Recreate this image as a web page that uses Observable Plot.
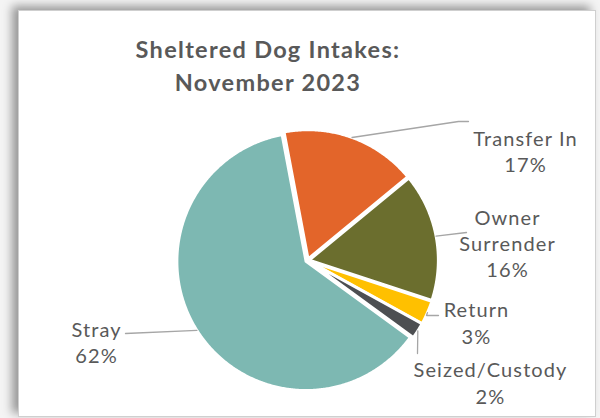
<!DOCTYPE html>
<html>
<head>
<meta charset="utf-8">
<script src="https://cdn.jsdelivr.net/npm/d3@7"></script>
<script src="https://cdn.jsdelivr.net/npm/@observablehq/plot@0.6"></script>
<style>
  html, body { margin: 0; padding: 0; background: #ffffff; }
  #wrap { position: relative; width: 600px; height: 418px; overflow: hidden; background: #f4f4f4; }
  #panel { position: absolute; left: 18px; top: 10px; width: 576px; height: 405px; background: #fff;
           border: 1px solid #cfcfcf; box-shadow: -6px -4px 9px rgba(0,0,0,0.38); }
  #title { position: absolute; left: 48px; width: 440px; top: 33px; text-align: center;
           font-family: "Century Gothic", Lato, "DejaVu Sans", sans-serif; font-weight: 700;
           font-size: 23.5px; line-height: 33px; color: #595959; letter-spacing: 1.3px; }
  #chart { position: absolute; left: 0; top: 0; }
  #chart text { letter-spacing: 1.1px; }
</style>
</head>
<body>
<div id="wrap">
  <div id="panel"></div>
  <div id="title">Sheltered Dog Intakes:<br>November 2023</div>
  <div id="chart"></div>
</div>
<script>
// ---- data ----
const categories = ["Transfer In", "Owner Surrender", "Return", "Seized/Custody", "Stray"];
const values = [17, 16, 3, 2, 62];
const labelTexts = ["Transfer In", "Owner\nSurrender", "Return", "Seized/Custody", "Stray"];
const percentLabels = ["17%", "16%", "3%", "2%", "62%"];
const colors = ["#e3652a", "#6b6e2e", "#ffc000", "#4d4f52", "#7db8b2"];

// ---- layout ----
const W = 600, H = 418;
const cx = 307, cy = 260, R = 129;
const startDeg = -10.7;   // first slice angle
const explode = 1.8;
const labelPos = {
  "Transfer In": [525, 150],
  "Owner Surrender": [507, 242],
  "Return": [476, 321.5],
  "Seized/Custody": [490, 381.5],
  "Stray": [96, 341]
};
const leaderElbows = {
  "Transfer In": [[458, 121], [468, 121]],
  "Owner Surrender": [[466, 232]],
  "Return": [[426, 315], [438, 315]],
  "Seized/Custody": [[417, 353]],
  "Stray": [[125, 333]]
};

const rows = categories.map((c, i) => ({name: c, value: values[i], label: labelTexts[i] + "\n" + percentLabels[i]}));
const a0 = startDeg * Math.PI / 180;
const arcs = d3.pie().sort(null).value(d => d.value).startAngle(a0).endAngle(a0 + 2 * Math.PI)(rows);

const slicePts = [];
const leaderPts = [];
const labels = [];
for (const a of arcs) {
  const mid = (a.startAngle + a.endAngle) / 2;
  const ox = explode * Math.sin(mid), oy = -explode * Math.cos(mid);
  const name = a.data.name;
  slicePts.push({name, x: cx + ox, y: cy + oy});
  const n = Math.max(4, Math.ceil((a.endAngle - a.startAngle) / (Math.PI / 360)));
  for (let k = 0; k <= n; k++) {
    const t = a.startAngle + (a.endAngle - a.startAngle) * k / n;
    slicePts.push({name, x: cx + ox + R * Math.sin(t), y: cy + oy - R * Math.cos(t)});
  }
  // leader line: starts at slice rim mid-angle
  leaderPts.push({name, x: cx + ox + R * Math.sin(mid), y: cy + oy - R * Math.cos(mid)});
  for (const [x, y] of leaderElbows[name]) leaderPts.push({name, x, y});
  const [lx, ly] = labelPos[name];
  labels.push({name, x: lx, y: ly, text: a.data.label});
}

const chart = Plot.plot({
  width: W, height: H, margin: 0,
  x: {domain: [0, W], range: [0, W], axis: null},
  y: {domain: [0, H], range: [0, H], axis: null},
  color: {domain: categories, range: colors},
  style: {background: "transparent", overflow: "visible"},
  marks: [
    Plot.line(slicePts, {x: "x", y: "y", z: "name", fill: "name", stroke: "white", strokeWidth: 2.8, curve: "linear-closed"}),
    Plot.line(leaderPts, {x: "x", y: "y", z: "name", stroke: "#a6a6a6", strokeWidth: 1.3}),
    Plot.text(labels, {x: "x", y: "y", text: "text", fill: "#595959", fontSize: 20, lineHeight: 1.32,
      textAnchor: "middle", fontFamily: "'Century Gothic', Lato, 'DejaVu Sans', sans-serif"})
  ]
});
document.getElementById("chart").appendChild(chart);
</script>
</body>
</html>
